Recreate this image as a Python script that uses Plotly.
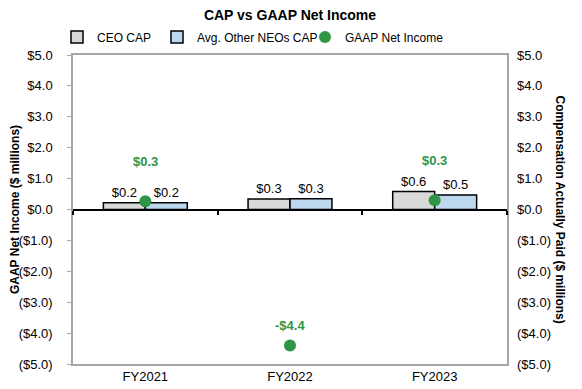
import plotly.graph_objects as go

years = ["FY2021", "FY2022", "FY2023"]
ceo_cap = [0.22, 0.34, 0.58]
neo_cap = [0.22, 0.35, 0.47]
ceo_labels = ["$0.2", "$0.3", "$0.6"]
neo_labels = ["$0.2", "$0.3", "$0.5"]
gaap_ni = [0.27, -4.4, 0.3]
gaap_labels = ["$0.3", "-$4.4", "$0.3"]
tick_vals = [5, 4, 3, 2, 1, 0, -1, -2, -3, -4, -5]
tick_text = ["$5.0", "$4.0", "$3.0", "$2.0", "$1.0", "$0.0",
             "($1.0)", "($2.0)", "($3.0)", "($4.0)", "($5.0)"]

FONT = "Arial, Liberation Sans, sans-serif"
GREEN = "#2E9446"
W, H = 574, 381          # page body has an 8px margin
L, R, T, B = 65, 75, 47, 25
PW = W - L - R

fig = go.Figure()
fig.add_trace(go.Bar(
    x=years, y=ceo_cap, name="CEO CAP", text=ceo_labels, textposition="outside",
    textfont=dict(size=13, color="black", family=FONT), cliponaxis=False,
    marker=dict(color="#D9D9D9", line=dict(color="black", width=1.5)),
    xaxis="x", yaxis="y", legend="legend"))
fig.add_trace(go.Bar(
    x=years, y=neo_cap, name="Avg. Other NEOs CAP", text=neo_labels, textposition="outside",
    textfont=dict(size=13, color="black", family=FONT), cliponaxis=False,
    marker=dict(color="#BDD7EE", line=dict(color="black", width=1.5)),
    xaxis="x", yaxis="y", legend="legend2"))
fig.add_trace(go.Scatter(
    x=years, y=gaap_ni, name="GAAP Net Income", mode="markers",
    marker=dict(color=GREEN, size=12), xaxis="x2", yaxis="y2", cliponaxis=False,
    legend="legend3"))

for yr, v, lab in zip(years, gaap_ni, gaap_labels):
    fig.add_annotation(x=yr, y=v, xref="x", yref="y", text="<b>%s</b>" % lab,
                       showarrow=False, yshift=40 if v > 0 else 20,
                       font=dict(size=13, color=GREEN, family=FONT))

fig.add_annotation(x=(560 - 8 - L) / PW, y=0.5, xref="paper", yref="paper", textangle=90,
                   xanchor="center", yanchor="middle",
                   text="<b>Compensation Actually Paid ($ millions)</b>", showarrow=False,
                   font=dict(size=12, color="black", family=FONT))

def leg(px):
    return dict(orientation="h", x=(px - L) / PW, xanchor="left", xref="paper",
                y=1 - 29 / H, yanchor="middle", yref="container",
                font=dict(size=12, family=FONT), itemwidth=30,
                bgcolor="rgba(0,0,0,0)")

fig.update_layout(
    width=W, height=H,
    margin=dict(l=L, r=R, t=T, b=B, autoexpand=False),
    paper_bgcolor="white", plot_bgcolor="white",
    font=dict(family=FONT, size=13, color="black"),
    title=dict(text="<b>CAP vs GAAP Net Income</b>", x=0.5, xanchor="center", xref="paper",
               y=1 - 7 / H, yanchor="middle", font=dict(size=14, family=FONT),
               automargin=False),
    barmode="group", bargap=0.42, bargroupgap=0,
    showlegend=True,
    legend=leg(49), legend2=leg(149), legend3=leg(297),
    xaxis=dict(type="category", range=[-0.5, 2.5], showline=True, linecolor="#A6A6A6",
               linewidth=1.5, mirror=True, ticks="", showgrid=False,
               tickfont=dict(size=13)),
    xaxis2=dict(type="category", range=[-0.5, 2.5], overlaying="x", anchor="free",
                position=0.5, showline=False, ticks="outside", tickson="boundaries",
                ticklen=4, tickcolor="black", tickwidth=1.5, showticklabels=False,
                showgrid=False),
    yaxis=dict(range=[-5, 5], tickvals=tick_vals, ticktext=tick_text, showline=True,
               linecolor="#A6A6A6", linewidth=1.5, mirror=True, ticks="outside",
               ticklen=4, tickcolor="#A6A6A6", showgrid=False, zeroline=True,
               zerolinecolor="black", zerolinewidth=2, ticklabelstandoff=12,
               title=dict(text="<b>GAAP Net Income ($ millions)</b>", standoff=2,
                          font=dict(size=12)),
               tickfont=dict(size=13)),
    yaxis2=dict(range=[-5, 5], tickvals=tick_vals, ticktext=tick_text, overlaying="y",
                anchor="x2", side="right", showline=False, ticks="", showgrid=False,
                zeroline=False, ticklabelstandoff=9, tickfont=dict(size=13)),
)

fig.write_html("out.html")
